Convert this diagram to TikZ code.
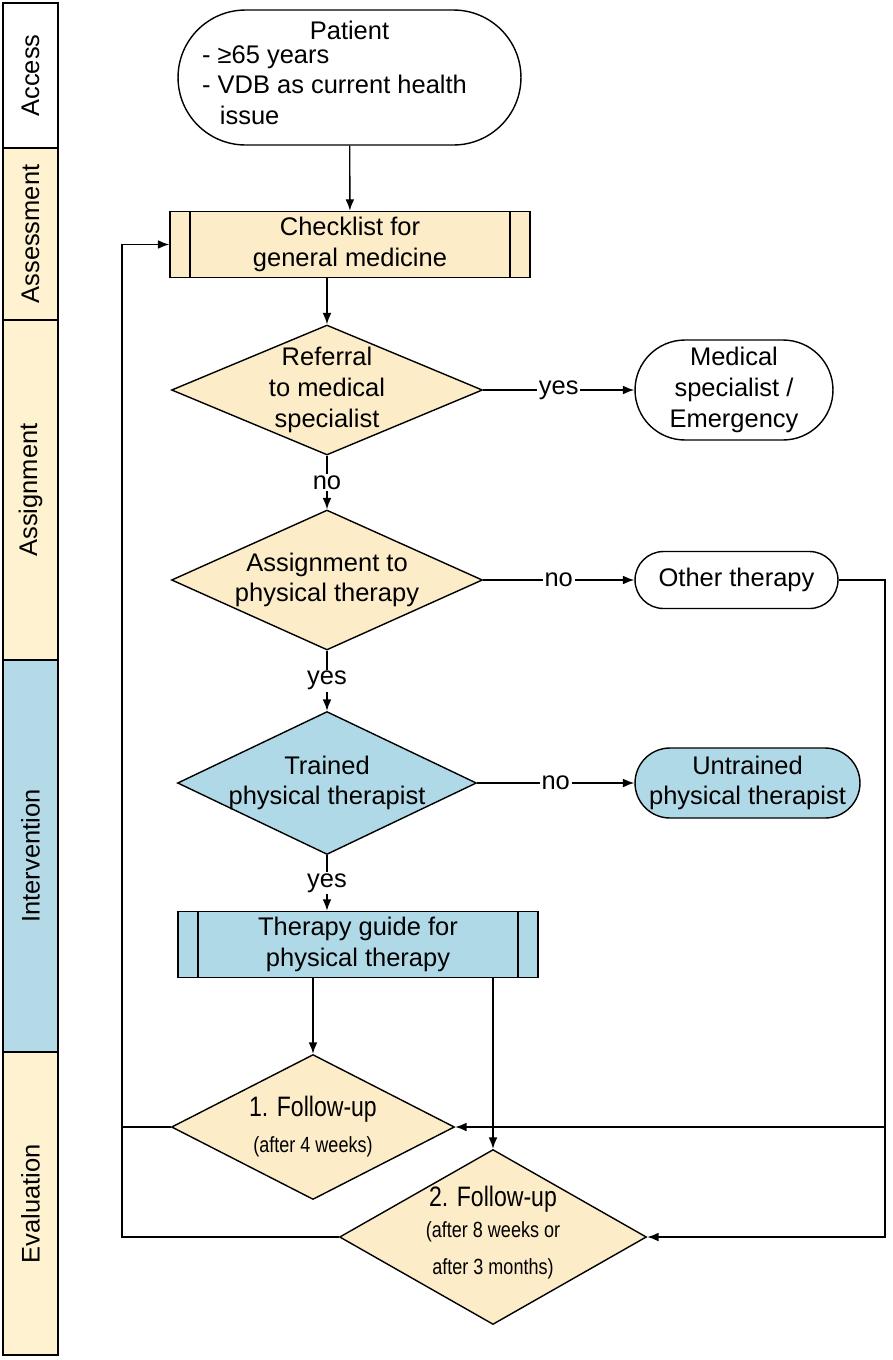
\documentclass[tikz,border=0pt]{standalone}
\usepackage{fontspec}
\setmainfont{Liberation Sans}
\newfontfamily\narrowfont[FakeStretch=0.82]{Liberation Sans}
\usepackage{tikz}
\usetikzlibrary{arrows.meta}
\usetikzlibrary{shapes.geometric}
\definecolor{tanfill}{RGB}{252,236,200}
\definecolor{lanetan}{RGB}{254,242,208}
\definecolor{bluefill}{RGB}{176,217,231}
\definecolor{laneblue}{RGB}{180,218,232}
\newcommand{\mainsize}{\fontsize{14.5}{17.5}\selectfont}
\newcommand{\fuBig}{\narrowfont\fontsize{16}{19}\selectfont}
\newcommand{\fuSmall}{\narrowfont\fontsize{12.5}{19}\selectfont}
\tikzset{
  decision/.style={draw, diamond, inner sep=-1cm, align=center, font=\mainsize},
  termbox/.style={draw, rectangle, align=center, inner xsep=0pt, inner ysep=1pt, font=\mainsize},
  procbox/.style={draw, rectangle, align=center, minimum width=7.2cm, minimum height=1.3cm, font=\mainsize,
    path picture={
      \draw ([xshift=0.4cm]path picture bounding box.north west) -- ([xshift=0.4cm]path picture bounding box.south west);
      \draw ([xshift=-0.4cm]path picture bounding box.north east) -- ([xshift=-0.4cm]path picture bounding box.south east);
    }},
  lbl/.style={fill=white, inner sep=1pt, font=\mainsize}
}

\begin{document}
\begin{tikzpicture}[x=0.02cm, y=-0.02cm, line width=0.8pt, >={Latex[length=6.5pt, width=5pt]}]
\useasboundingbox (0,0) rectangle (893,1360);
\foreach \ya/\yb/\col/\name in {3/148/white/Access, 148/320/lanetan/Assessment, 320/660/lanetan/Assignment, 660/1052/laneblue/Intervention, 1052/1355/lanetan/Evaluation} {
  \draw[fill=\col, line width=1.2pt] (3,\ya) rectangle (58,\yb);
  \node[rotate=90, font=\mainsize] (lane\name) at (30.5,{(\ya+\yb)/2}) {\name};
}

\node[termbox, minimum width=6.86cm, minimum height=2.7cm, rounded corners=1.35cm, inner ysep=0pt] (patient) at (349.5,77.5)
  {Patient\\ \begin{tabular}{@{}l@{\hspace{0.6cm}}}- ≥65 years\\- VDB as current health\\\hspace*{0.7em}issue\end{tabular}};
\node[procbox, fill=tanfill] (chk) at (350,244.5) {Checklist for\\general medicine};
\node[decision, fill=tanfill, minimum width=6.22cm, minimum height=2.6cm] (referral) at (327,390) {Referral\\to medical\\specialist};
\node[termbox, minimum width=3.96cm, minimum height=2cm, rounded corners=1cm] (special) at (734,390) {Medical\\specialist /\\Emergency};
\node[decision, fill=tanfill, minimum width=6.22cm, minimum height=2.8cm] (assign) at (327,580) {Assignment to\\physical therapy};
\node[termbox, minimum width=4.06cm, minimum height=1.14cm, rounded corners=0.57cm] (other) at (736.5,580) {Other therapy};
\node[decision, fill=bluefill, minimum width=5.98cm, minimum height=2.86cm] (trained) at (327,783) {Trained\\physical therapist};
\node[termbox, fill=bluefill, minimum width=4.5cm, minimum height=1.4cm, rounded corners=0.7cm] (untrained) at (747.5,783) {Untrained\\physical therapist};
\node[procbox, fill=bluefill] (guide) at (358,944.5) {Therapy guide for\\physical therapy};
\node[decision, fill=tanfill, minimum width=5.66cm, minimum height=2.9cm] (fu1) at (313,1127)
  {{\fuBig 1. Follow-up}\\[3pt]{\fuSmall (after 4 weeks)}};
\node[decision, fill=tanfill, minimum width=6.14cm, minimum height=3.5cm] (fu2) at (493,1237)
  {{\fuBig 2. Follow-up}\\{\fuSmall (after 8 weeks or}\\[4pt]{\fuSmall after 3 months)}\\[-10pt]};

\coordinate (rbus) at (885,0);
\coordinate (lbus) at (122,0);

\draw[->] (patient) -- (chk);
\draw[->] (referral.north |- chk.south) -- (referral);
\draw[->] (referral) -- node[lbl]{yes} (special);
\draw[->] (referral) -- node[lbl]{no} (assign);
\draw[->] (assign) -- node[lbl]{no} (other);
\draw[->] (assign) -- node[lbl]{yes} (trained);
\draw[->] (trained) -- node[lbl]{no} (untrained);
\draw[->] (trained) -- node[lbl]{yes} (trained.south |- guide.north);
\draw[->] (fu1.north |- guide.south) -- (fu1);
\draw[->] (fu2.north |- guide.south) -- (fu2);
\draw[->] (other) -| (rbus |- fu2) -- (fu2);
\draw[->] (rbus |- fu1) -- (fu1);
\draw[->] (fu2) -- (lbus |- fu2) |- (chk);
\draw (fu1) -- (lbus |- fu1);
\end{tikzpicture}
\end{document}
